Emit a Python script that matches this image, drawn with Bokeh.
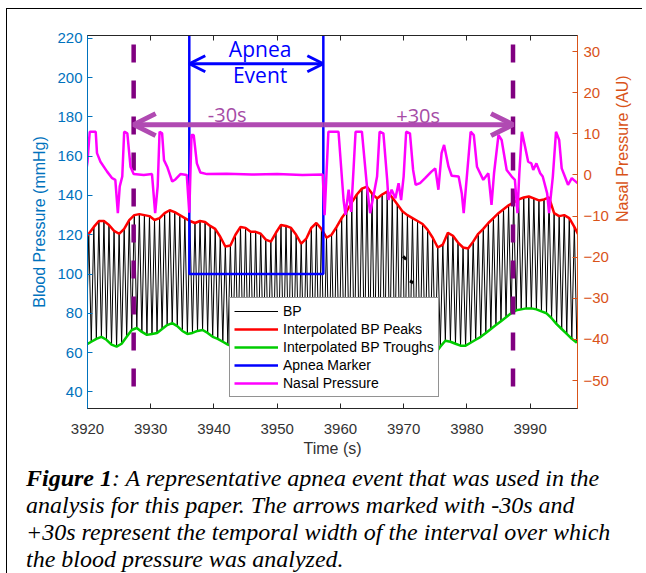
import numpy as np
from bokeh.plotting import figure
from bokeh.models import (Range1d, LinearAxis, Arrow, OpenHead, Label, Legend,
                          LegendItem, FixedTicker, Div)
from bokeh.layouts import column
from bokeh.embed import file_html
from bokeh.resources import INLINE

# ---------------- data ----------------
beat_t = [3919.4, 3920.2, 3921.0, 3921.8, 3922.6, 3923.4, 3924.2, 3925.0, 3925.8, 3926.6,
          3927.4, 3928.2, 3929.0, 3929.8, 3930.6, 3931.4, 3932.2, 3933.0, 3933.8, 3934.6,
          3935.4, 3936.2, 3937.0, 3937.8, 3938.6, 3939.4, 3940.2, 3941.0, 3941.8, 3942.6,
          3943.4, 3944.2, 3945.0, 3945.8, 3946.6, 3947.4, 3948.2, 3949.0, 3949.8, 3950.6,
          3951.4, 3952.2, 3953.0, 3953.8, 3954.6, 3955.4, 3956.2, 3957.0, 3957.8, 3958.6,
          3959.4, 3960.2, 3961.0, 3961.8, 3962.6, 3963.4, 3964.2, 3965.0, 3965.8, 3966.6,
          3967.4, 3968.2, 3969.0, 3969.8, 3970.6, 3971.4, 3972.2, 3973.0, 3973.8, 3974.6,
          3975.4, 3976.2, 3977.0, 3977.8, 3978.6, 3979.4, 3980.2, 3981.0, 3981.8, 3982.6,
          3983.4, 3984.2, 3985.0, 3985.8, 3986.6, 3987.4, 3988.2, 3989.0, 3989.8, 3990.6,
          3991.4, 3992.2, 3993.0, 3993.8, 3994.6, 3995.4, 3996.2, 3997.0, 3997.8]
peak_v = [117, 120.5, 124, 127, 127, 125, 122, 120.5, 123, 127.5,
          130, 130.5, 130, 129.5, 127.5, 128.5, 131, 132.5, 131.5, 130,
          128.5, 127, 126, 127, 126.5, 124.5, 123, 119, 114, 114.5,
          120, 124, 123.5, 121.5, 121.5, 120.5, 117.5, 116.5, 121, 125,
          124.5, 123.5, 120, 115.5, 118, 123.5, 126, 123, 118.5, 120,
          124, 128.5, 132, 136.5, 140.5, 143.5, 144.5, 141, 138.5, 140.5,
          142, 139, 135.5, 132, 130, 128.5, 127, 125.5, 122.5, 118.5,
          113.5, 115, 121, 119.5, 116, 113.5, 113, 116.5, 120.5, 123,
          126, 128.5, 131, 133, 135, 136.5, 138, 139, 139.5, 138.5,
          137.5, 138, 139, 131, 129.5, 130, 128.5, 124, 119]
trough_t = [3919.0, 3919.8, 3920.6, 3921.4, 3922.2, 3923.0, 3923.8, 3924.6, 3925.4, 3926.2,
            3927.0, 3927.8, 3928.6, 3929.4, 3930.2, 3931.0, 3931.8, 3932.6, 3933.4, 3934.2,
            3935.0, 3935.8, 3936.6, 3937.4, 3938.2, 3939.0, 3939.8, 3940.6, 3941.4, 3942.2,
            3943.0, 3943.8, 3944.6, 3945.4, 3946.2, 3947.0, 3947.8, 3948.6, 3949.4, 3950.2,
            3951.0, 3951.8, 3952.6, 3953.4, 3954.2, 3955.0, 3955.8, 3956.6, 3957.4, 3958.2,
            3959.0, 3959.8, 3960.6, 3961.4, 3962.2, 3963.0, 3963.8, 3964.6, 3965.4, 3966.2,
            3967.0, 3967.8, 3968.6, 3969.4, 3970.2, 3971.0, 3971.8, 3972.6, 3973.4, 3974.2,
            3975.0, 3975.8, 3976.6, 3977.4, 3978.2, 3979.0, 3979.8, 3980.6, 3981.4, 3982.2,
            3983.0, 3983.8, 3984.6, 3985.4, 3986.2, 3987.0, 3987.8, 3988.6, 3989.4, 3990.2,
            3991.0, 3991.8, 3992.6, 3993.4, 3994.2, 3995.0, 3995.8, 3996.6, 3997.4]
trough_v = [63, 64, 65.5, 67, 68, 66.5, 64, 63, 64.5, 68,
            71.5, 72.5, 70.5, 69, 69.5, 70, 72, 74, 75, 73.5,
            71, 69.5, 70, 71, 71.5, 70, 68, 67, 65.5, 64,
            63, 62, 61.5, 61, 60.5, 60, 60, 59.5, 59, 59,
            58.5, 58.5, 58, 58, 57.5, 57.5, 57.5, 57, 57, 57,
            57, 57, 57, 57, 57.5, 57.5, 58, 58, 58, 58,
            58.5, 58.5, 58.5, 58.5, 58.5, 58.5, 58.5, 59, 59, 59,
            59.5, 63, 66, 65.5, 64.5, 63.5, 63.5, 65, 66.5, 68,
            70, 72, 74, 76, 78, 80, 81.5, 82, 82.5, 82.5,
            82, 81, 80, 77.5, 74.5, 72, 69.5, 67, 65]
# short signal artefacts visible in the BP trace around 3970 s
artifact_t = [[3969.9, 3970.4], [3971.0, 3971.5]]
artifact_v = [[109, 107.5], [96.5, 95.5]]

nasal_t = [3919.8, 3920.0, 3920.35, 3920.6, 3921.3, 3921.5, 3922.05, 3923.1, 3923.9, 3924.4,
           3924.8, 3925.1, 3925.5, 3925.8, 3926.3, 3926.8, 3927.3, 3928.9, 3930.2, 3930.7,
           3931.1, 3931.4, 3931.8, 3932.1, 3932.6, 3933.4, 3933.9, 3934.7, 3935.7, 3936.1,
           3936.45, 3936.8, 3937.3, 3937.85, 3938.9, 3942.0, 3946.0, 3950.0, 3954.0, 3957.2,
           3957.5, 3958.1, 3959.7, 3960.5, 3960.8, 3961.3, 3961.7, 3962.1, 3962.4, 3963.4,
           3964.2, 3964.7, 3965.3, 3965.8, 3966.2, 3966.8, 3967.4, 3967.6, 3968.1, 3968.7,
           3969.2, 3969.6, 3970.0, 3970.4, 3971.0, 3971.5, 3971.9, 3972.6, 3973.4, 3973.9,
           3974.4, 3975.0, 3975.2, 3975.5, 3976.0, 3976.4, 3977.1, 3977.6, 3978.7, 3979.2,
           3979.5, 3980.0, 3980.6, 3981.1, 3981.6, 3982.6, 3983.4, 3983.9, 3984.3, 3985.0,
           3985.5, 3986.3, 3987.1, 3987.6, 3988.0, 3988.3, 3988.7, 3989.2, 3989.7, 3990.2,
           3990.5, 3991.0, 3991.6, 3992.0, 3992.7, 3993.0, 3993.6, 3994.1, 3994.6, 3995.0,
           3995.5, 3996.0, 3996.6, 3996.9, 3997.5, 3997.8]
nasal_v = [1.0, 3.2, 10.5, 10.5, 10.5, 5.3, 3.2, 0.8, -0.8, -1.2,
           -9.3, -2.8, -0.4, 10.5, 10.1, 2.0, 0.2, 0.0, 0.2, -9.3,
           -2.8, 10.5, 10.1, 3.6, 2.0, -1.6, -1.1, 0.2, 0.0, -9.2,
           9.7, 9.7, 2.8, 0.6, 0.2, 0.3, 0.1, 0.2, 0.0, 0.1,
           -9.8, 10.5, 10.5, -6.1, -9.7, -3.6, -9.0, 2.0, 10.5, 10.5,
           -2.8, -9.3, -4.5, -0.4, 10.5, 10.1, -1.2, -6.1, -3.6, -5.7,
           -2.0, -6.1, -0.4, 10.5, 10.1, 1.2, -2.4, -2.0, -0.8, 0.0,
           0.8, 1.6, -0.4, -3.6, 5.3, 7.3, 2.0, -0.2, -0.4, -4.5,
           -9.3, -0.4, 10.5, 9.7, 2.0, -1.2, 0.4, -7.3, 0.4, 9.7,
           8.5, 1.2, -0.4, -1.2, -9.3, 0.4, 10.5, 6.9, 3.2, 2.8,
           1.2, 2.8, 0.4, -0.4, -4.5, -9.3, -0.4, 10.5, 8.5, 1.6,
           -0.4, -2.4, -0.8, -1.2, -2.0, -2.0]

apnea_start = 3936.1
apnea_end = 3957.3
apnea_marker_low = 100
apnea_marker_high = 240
window_start = apnea_end - 30
window_end = apnea_end + 30

x_ticks = [3920, 3930, 3940, 3950, 3960, 3970, 3980, 3990]
bp_ticks = [40, 60, 80, 100, 120, 140, 160, 180, 200, 220]
nasal_ticks = [-50, -40, -30, -20, -10, 0, 10, 20, 30]

# ---------------- figure ----------------
TICK_FONT = "Liberation Sans"
p = figure(frame_width=490, frame_height=373,
           min_border_left=80, min_border_right=62, min_border_top=26, min_border_bottom=56,
           x_range=Range1d(3920, 3997.5), y_range=Range1d(31.5, 221.5),
           output_backend="svg", toolbar_location=None,
           background_fill_color="white", border_fill_color="white")
p.extra_y_ranges = {"nasal": Range1d(-56.8, 33.9)}
p.grid.visible = False
p.outline_line_color = "#262626"

# BP trace: alternate troughs and peaks
bp_t, bp_v = [], []
for tt, tv, pt, pv in zip(trough_t, trough_v, beat_t, peak_v):
    bp_t += [tt, pt]
    bp_v += [tv, pv]

r_bp = p.line(bp_t, bp_v, line_color="black", line_width=1)
p.multi_line(artifact_t, artifact_v, line_color="black", line_width=3)
r_pk = p.line(beat_t, peak_v, line_color="#FF0000", line_width=2.5)
r_tr = p.line(trough_t, trough_v, line_color="#00CC00", line_width=2.5)
r_ap = p.line([3919.0, apnea_start, apnea_start, apnea_end, apnea_end, 3998.0],
              [apnea_marker_high, apnea_marker_high, apnea_marker_low, apnea_marker_low,
               apnea_marker_high, apnea_marker_high],
              line_color="#0000FF", line_width=2.5)

# dashed interval markers
p.segment(x0=[window_start, window_end], y0=[216.9, 216.9],
          x1=[window_start, window_end], y1=[41, 41],
          line_color="#800080", line_width=4.5, line_dash="18 18")

r_na = p.line(nasal_t, nasal_v, y_range_name="nasal", line_color="#FF00FF", line_width=2.5)

# ---------------- axes ----------------
xa = p.xaxis[0]
xa.ticker = FixedTicker(ticks=x_ticks)
xa.axis_label = "Time (s)"
ya = p.yaxis[0]
ya.ticker = FixedTicker(ticks=bp_ticks)
ya.axis_label = "Blood Pressure (mmHg)"
ra = LinearAxis(y_range_name="nasal", ticker=FixedTicker(ticks=nasal_ticks),
                axis_label="Nasal Pressure (AU)")
p.add_layout(ra, "right")
ta = LinearAxis(ticker=FixedTicker(ticks=x_ticks))
p.add_layout(ta, "above")

for ax, col in [(xa, "#262626"), (ya, "#0072BD"), (ra, "#D95319"), (ta, "#262626")]:
    ax.axis_line_color = col
    ax.major_tick_line_color = col
    ax.minor_tick_line_color = None
    ax.major_tick_in = 5
    ax.major_tick_out = 0
    ax.major_label_text_color = col if col != "#262626" else "#333333"
    ax.major_label_text_font = TICK_FONT
    ax.major_label_text_font_size = "15px"
    ax.axis_label_text_color = col if col != "#262626" else "#333333"
    ax.axis_label_text_font = TICK_FONT
    ax.axis_label_text_font_size = "16px"
    ax.axis_label_text_font_style = "normal"

ta.major_label_text_font_size = "1px"
ta.major_label_text_alpha = 0
ta.major_label_standoff = 0
xa.major_label_standoff = 15
xa.axis_label_standoff = 3
ya.major_label_standoff = 5
ya.axis_label_standoff = 6
ra.major_label_standoff = 6
ra.axis_label_standoff = 11
ra.axis_label_orientation = np.pi / 2

# ---------------- annotations ----------------
p.add_layout(Arrow(start=OpenHead(size=16, line_color="#0000FF", line_width=3),
                   end=OpenHead(size=16, line_color="#0000FF", line_width=3),
                   x_start=apnea_start, y_start=207.1, x_end=apnea_end, y_end=207.1,
                   line_color="#0000FF", line_width=3))
p.add_layout(Arrow(end=OpenHead(size=22, line_color="#B04AB2", line_width=5),
                   x_start=apnea_end, y_start=176.1, x_end=window_start, y_end=176.1,
                   line_color="#B04AB2", line_width=5))
p.add_layout(Arrow(end=OpenHead(size=22, line_color="#B04AB2", line_width=5),
                   x_start=apnea_end, y_start=176.1, x_end=window_end, y_end=176.1,
                   line_color="#B04AB2", line_width=5))

mid = (apnea_start + apnea_end) / 2 + 0.6
for txt, yv in [("Apnea", 214.7), ("Event", 201.2)]:
    p.add_layout(Label(x=mid, y=yv, text=txt, text_align="center", text_baseline="middle",
                       text_font="Open Sans", text_font_size="21px", text_color="#0000FF"))
p.add_layout(Label(x=3942.1, y=181.2, text="-30s", text_align="center", text_baseline="middle",
                   text_font="Open Sans", text_font_size="20px", text_color="#A64CA6"))
p.add_layout(Label(x=3972.3, y=180.9, text="+30s", text_align="center", text_baseline="middle",
                   text_font="Open Sans", text_font_size="20px", text_color="#A64CA6"))

legend = Legend(items=[LegendItem(label="BP", renderers=[r_bp]),
                       LegendItem(label="Interpolated BP Peaks", renderers=[r_pk]),
                       LegendItem(label="Interpolated BP Troughs", renderers=[r_tr]),
                       LegendItem(label="Apnea Marker", renderers=[r_ap]),
                       LegendItem(label="Nasal Pressure", renderers=[r_na])],
                location=(142, 11), orientation="vertical",
                label_text_font=TICK_FONT, label_text_font_size="14px",
                label_text_color="#000000",
                glyph_width=44, glyph_height=18, label_height=18, spacing=0,
                padding=4, margin=0, label_standoff=5,
                border_line_color="#262626", border_line_width=1,
                background_fill_color="white", background_fill_alpha=1)
p.add_layout(legend)

caption = Div(
    text=('<b><i>Figure 1</i></b><i>: A representative apnea event that was used in the<br>'
          'analysis for this paper. The arrows marked with -30s and<br>'
          '+30s represent the temporal width of the interval over which<br>'
          'the blood pressure was analyzed.</i>'),
    width=632, height=120, margin=(-3, 0, 0, 0),
    styles={"font-family": "'Liberation Serif', 'Times New Roman', serif",
            "font-size": "24px", "line-height": "27px", "color": "black",
            "padding-left": "19px", "padding-top": "4px", "white-space": "nowrap"})

layout = column(p, caption, spacing=0, margin=(8, 0, 0, 6),
                styles={"border-left": "1px solid #000", "border-top": "1px solid #000"})

open("out.html", "w").write(file_html(layout, INLINE))
